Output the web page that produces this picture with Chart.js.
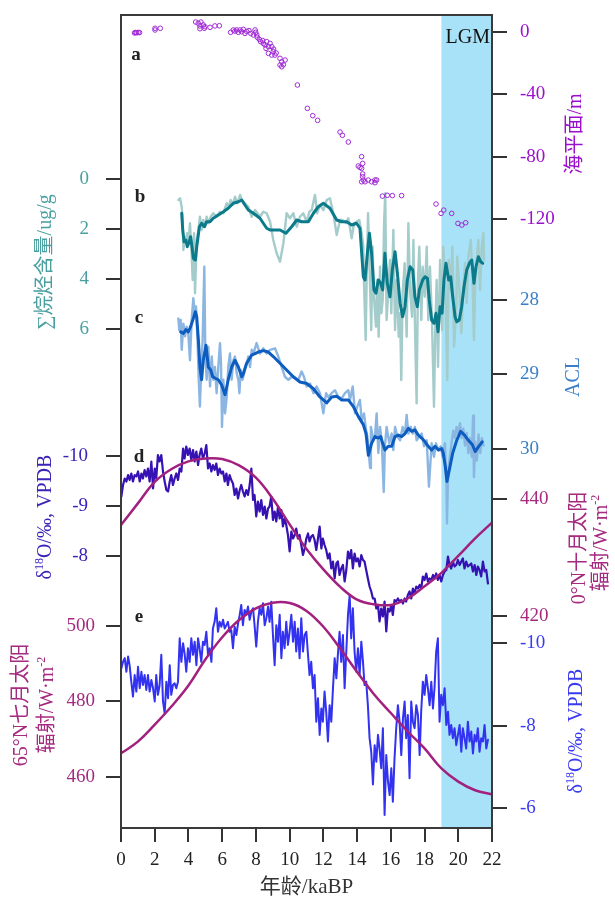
<!DOCTYPE html>
<html><head><meta charset="utf-8">
<script src="https://cdn.jsdelivr.net/npm/chart.js@4.4.0/dist/chart.umd.min.js"></script>
<style>html,body{margin:0;padding:0;background:#fff;}#wrap{width:615px;height:898px;position:relative;}</style>
</head><body><div id="wrap"><canvas id="cv"></canvas></div>
<script>
// ---------------- data ----------------
const xTicks = [0,2,4,6,8,10,12,14,16,18,20,22];
const lgmStart = 19, lgmEnd = 22;

// a: sea level (m)
const seaAge = [0.80,0.86,0.92,1.02,1.10,2.02,2.02,2.33,4.43,4.58,
4.74,4.68,4.68,4.88,4.98,4.94,5.28,5.57,5.83,6.50,
6.66,6.76,6.86,6.96,7.06,7.15,7.25,7.35,7.45,7.59,
7.69,7.95,7.99,7.85,8.05,8.08,8.20,8.28,8.44,8.64,
8.54,8.74,8.84,8.94,9.03,8.74,8.94,9.13,9.43,9.73,
9.53,9.43,9.53,9.63,8.40,8.60,9.05,9.20,10.46,11.05,
11.37,11.66,12.99,13.13,13.48,14.27,14.07,14.17,14.33,14.27,
14.33,14.33,14.37,14.27,14.47,14.66,14.86,15.06,15.16,15.06,
15.50,15.79,16.09,16.64,18.68,18.98,19.14,19.61,19.98,20.21,
20.44];
const seaLevel = [-0.6,-0.3,-0.5,-0.3,-0.4,2.4,1.3,2.4,6.4,5.6,
6.4,3.9,2.1,4.5,3.4,2.4,3.0,3.9,4.0,-0.2,
1.3,0.6,1.3,-0.2,1.3,0.2,1.7,-0.9,0.4,0.9,
-0.9,1.3,-0.2,-1.9,-1.9,-3.4,-4.7,-6.2,-7.3,-6.2,
-8.3,-9.4,-7.3,-9.4,-12.6,-13.7,-14.8,-14.8,-16.9,-18.0,
-19.1,-21.2,-22.3,-21.0,-5.5,-10.5,-11.0,-13.5,-34.0,-49.0,
-53.7,-56.7,-64.2,-66.3,-70.6,-80.0,-86.0,-86.9,-84.3,-87.5,
-91.1,-92.9,-95.0,-96.1,-96.1,-95.0,-96.1,-95.0,-95.0,-96.7,
-105.3,-104.8,-105.0,-105.0,-110.4,-116.4,-114.3,-116.4,-122.8,-123.9,
-122.4];
const seaTicks = [0,-40,-80,-120];

// b: total alkanes (ug/g)
const alkRawAge = [3.40,3.50,3.60,3.66,3.70,3.78,3.85,3.93,4.01,4.09,
4.19,4.25,4.33,4.39,4.49,4.59,4.68,4.78,4.88,4.98,
5.08,5.18,5.32,5.47,5.67,5.87,6.07,6.27,6.40,6.50,
6.62,6.76,6.90,7.06,7.16,7.35,7.55,7.75,7.95,8.24,
8.44,8.64,8.84,9.03,9.23,9.43,9.63,9.82,10.02,10.22,
10.42,10.61,10.81,11.01,11.17,11.31,11.50,11.64,11.80,12.00,
12.20,12.39,12.59,12.79,12.99,13.14,13.34,13.48,13.68,13.82,
13.97,14.13,14.27,14.37,14.41,14.51,14.57,14.65,14.77,14.84,
14.92,15.00,15.12,15.20,15.28,15.36,15.44,15.52,15.60,15.67,
15.75,15.83,15.95,16.03,16.15,16.25,16.35,16.47,16.55,16.62,
16.70,16.82,16.94,17.04,17.14,17.26,17.34,17.45,17.53,17.61,
17.69,17.81,17.89,18.01,18.13,18.22,18.32,18.44,18.56,18.64,
18.72,18.80,18.92,19.04,19.11,19.23,19.35,19.43,19.55,19.65,
19.75,19.87,19.94,20.06,20.18,20.30,20.40,20.50,20.60,20.74,
20.85,20.93,21.01,21.09,21.19,21.29,21.39,21.49,21.53];
const alkRaw = [0.84,0.77,1.11,1.64,2.84,2.31,2.57,2.17,2.44,1.77,
2.97,4.04,2.17,4.57,2.44,2.04,1.51,2.04,1.64,1.91,
1.51,1.77,1.51,1.37,1.51,1.31,1.37,0.97,1.11,0.84,
1.04,0.71,0.97,0.64,0.84,0.97,1.11,1.51,1.24,1.51,
1.31,1.37,1.71,2.44,2.97,3.31,2.57,1.37,1.57,1.37,
1.91,1.51,1.37,1.71,1.31,1.24,0.64,1.37,1.04,1.24,
0.84,0.77,1.37,2.24,1.64,1.64,1.77,1.57,2.37,1.77,
1.71,1.64,2.17,2.71,4.17,6.44,3.91,1.37,4.31,6.04,
2.71,4.71,5.91,4.04,6.31,3.51,5.37,4.84,1.77,0.57,
5.64,4.71,3.24,5.37,2.04,6.04,4.04,6.31,5.37,8.04,
4.57,3.37,6.31,1.77,4.44,5.51,2.44,6.44,8.97,4.04,
2.71,5.64,3.51,4.71,2.71,5.64,3.51,5.64,9.11,5.91,
4.04,7.51,3.24,6.04,2.71,4.17,8.04,3.24,4.44,2.71,
6.71,5.37,3.11,4.31,6.17,4.31,3.37,4.97,3.11,2.44,
4.04,6.44,4.04,3.24,2.44,4.44,2.71,2.17,3.24];
const alkSmAge = [3.60,3.66,3.74,3.85,3.93,4.05,4.13,4.21,4.29,4.41,
4.49,4.65,4.78,4.94,5.08,5.28,5.47,5.77,6.07,6.36,
6.66,6.96,7.16,7.35,7.55,7.85,8.24,8.64,8.84,9.43,
9.78,10.12,10.42,10.71,11.11,11.41,11.70,12.00,12.39,12.79,
13.09,13.38,13.68,13.97,14.17,14.37,14.47,14.61,14.73,14.86,
15.00,15.12,15.26,15.40,15.52,15.65,15.79,15.95,16.09,16.25,
16.39,16.55,16.70,16.84,16.98,17.14,17.30,17.43,17.57,17.69,
17.89,18.03,18.17,18.28,18.42,18.56,18.68,18.80,18.92,19.04,
19.15,19.27,19.43,19.55,19.67,19.81,19.91,20.06,20.20,20.34,
20.50,20.66,20.80,20.93,21.05,21.19,21.33,21.45];
const alkSm = [1.37,2.04,2.51,2.44,2.71,2.51,2.31,2.71,3.17,3.24,
2.71,1.91,1.77,1.91,1.71,1.71,1.57,1.44,1.31,1.17,
0.97,0.91,0.84,1.04,1.24,1.37,1.57,1.97,2.04,2.04,
2.17,1.91,1.64,1.71,1.71,1.37,1.11,0.97,1.17,1.64,
1.71,1.71,1.84,1.77,1.97,3.91,4.04,2.97,2.17,2.97,
4.44,4.57,4.04,4.17,4.44,2.97,4.17,4.71,3.64,2.91,
3.77,4.97,5.51,5.11,4.04,3.51,3.64,4.71,5.11,4.44,
4.04,3.91,3.97,4.84,5.64,5.77,5.37,6.11,5.11,5.37,
4.04,3.37,4.04,3.91,4.71,5.51,5.71,5.64,5.11,4.31,
3.64,3.37,3.24,4.17,3.51,3.11,3.31,3.37];
const alkTicks = [0,2,4,6];

// c: ACL
const aclRawAge = [3.40,3.46,3.54,3.60,3.70,3.80,3.89,3.99,4.09,4.19,
4.29,4.37,4.45,4.53,4.61,4.68,4.76,4.84,4.94,5.00,
5.08,5.18,5.28,5.38,5.47,5.57,5.67,5.77,5.87,5.93,
5.99,6.07,6.17,6.27,6.36,6.46,6.56,6.66,6.76,6.86,
6.96,7.02,7.10,7.21,7.35,7.45,7.55,7.65,7.75,7.85,
8.04,8.24,8.44,8.64,8.84,9.13,9.33,9.53,9.72,9.92,
10.12,10.32,10.52,10.71,10.85,11.01,11.21,11.41,11.60,11.80,
12.00,12.16,12.29,12.49,12.69,12.89,13.09,13.28,13.48,13.58,
13.74,13.88,14.01,14.17,14.27,14.41,14.53,14.61,14.77,14.82,
14.96,15.06,15.16,15.26,15.36,15.46,15.58,15.65,15.75,15.91,
16.05,16.15,16.25,16.39,16.55,16.70,16.84,16.94,17.04,17.18,
17.30,17.43,17.53,17.69,17.83,17.97,18.13,18.26,18.42,18.56,
18.68,18.82,18.96,19.07,19.21,19.30,19.33,19.40,19.50,19.60,
19.70,19.80,19.90,20.00,20.10,20.20,20.30,20.40,20.50,20.60,
20.70,20.80,20.88,20.93,21.00,21.10,21.20,21.30,21.40,21.50];
const aclRaw = [28.25,28.41,28.27,28.67,28.32,28.49,28.36,28.45,28.81,28.27,
27.98,28.18,28.09,28.49,29.07,29.43,28.90,28.54,27.56,28.72,
29.07,28.63,29.16,28.76,29.07,28.90,29.25,28.90,28.58,28.85,
29.70,29.07,29.52,29.30,28.90,28.72,29.07,28.81,28.76,28.98,
29.07,29.25,28.94,29.07,28.94,28.85,28.76,28.90,28.67,28.72,
28.58,28.72,28.65,28.72,28.67,28.65,28.76,28.90,29.03,29.07,
29.03,29.05,29.07,28.96,29.03,29.16,29.12,29.25,29.16,29.25,
29.52,29.25,29.30,29.25,29.21,29.30,29.32,29.25,29.21,29.34,
29.16,29.52,29.43,29.34,29.61,29.52,29.74,29.83,30.25,29.70,
29.88,29.83,29.52,30.05,29.70,29.88,30.57,29.96,29.70,29.92,
29.79,30.01,29.70,29.83,29.88,29.70,29.79,29.54,29.79,29.70,
29.79,29.70,29.88,29.83,29.79,29.96,29.88,30.50,29.92,30.10,
29.92,30.01,29.96,30.10,29.92,30.45,30.99,30.30,30.10,29.92,
29.75,29.85,29.70,29.80,29.65,29.85,29.72,29.95,29.78,30.05,
29.85,30.10,29.55,30.37,29.90,30.15,29.80,30.05,29.85,29.95];
const aclSmAge = [3.54,3.70,3.85,3.99,4.13,4.29,4.41,4.49,4.59,4.68,
4.78,4.88,5.04,5.18,5.32,5.44,5.59,5.77,5.97,6.17,
6.36,6.56,6.76,6.96,7.16,7.25,7.45,7.75,8.14,8.44,
8.74,9.03,9.43,9.82,10.22,10.61,11.01,11.41,11.80,12.20,
12.49,12.79,13.09,13.48,13.78,14.07,14.37,14.53,14.67,14.86,
15.06,15.26,15.40,15.52,15.65,15.85,16.05,16.25,16.45,16.64,
16.84,17.04,17.24,17.43,17.63,17.83,18.03,18.22,18.42,18.62,
18.82,19.02,19.11,19.23,19.33,19.51,19.67,19.91,20.14,20.37,
20.60,20.84,21.00,21.18,21.42];
const aclSm = [28.43,28.45,28.40,28.43,28.36,28.25,28.16,28.23,28.54,28.90,
29.07,28.81,28.61,28.90,28.94,29.03,29.05,29.07,29.14,29.27,
29.07,28.90,28.81,28.90,29.03,28.99,28.85,28.74,28.70,28.68,
28.70,28.76,28.85,28.94,29.03,29.10,29.12,29.19,29.30,29.38,
29.30,29.29,29.34,29.34,29.43,29.56,29.67,29.79,30.08,29.92,
29.83,29.85,29.83,29.92,30.01,29.96,29.96,29.83,29.81,29.83,
29.79,29.72,29.76,29.74,29.81,29.85,29.90,29.96,30.01,29.96,
30.01,29.99,30.05,30.23,30.43,30.23,30.05,29.88,29.76,29.81,
29.88,29.94,30.03,29.97,29.90];
const aclTicks = [28,29,30];

// d & e: speleothem d18O records (shared age readings)
const caveAge = [0.02,0.12,0.22,0.32,0.42,0.51,0.61,0.71,0.81,0.91,
1.01,1.11,1.21,1.30,1.40,1.50,1.60,1.70,1.80,1.90,
2.00,2.09,2.19,2.29,2.39,2.49,2.59,2.69,2.79,2.89,
2.98,3.08,3.18,3.28,3.38,3.48,3.58,3.68,3.77,3.87,
3.97,4.07,4.17,4.27,4.37,4.47,4.57,4.66,4.76,4.86,
4.96,5.06,5.16,5.26,5.36,5.45,5.55,5.65,5.75,5.85,
5.95,6.05,6.15,6.25,6.34,6.44,6.54,6.64,6.74,6.84,
6.94,7.04,7.13,7.23,7.33,7.43,7.53,7.63,7.73,7.83,
7.92,8.02,8.12,8.22,8.32,8.42,8.52,8.62,8.72,8.81,
8.91,9.01,9.11,9.21,9.31,9.41,9.51,9.60,9.70,9.80,
9.90,10.00,10.10,10.20,10.30,10.39,10.49,10.59,10.69,10.79,
10.89,10.99,11.09,11.18,11.28,11.38,11.48,11.58,11.68,11.78,
11.88,11.97,12.07,12.17,12.27,12.37,12.47,12.57,12.67,12.77,
12.86,12.96,13.06,13.16,13.26,13.36,13.46,13.56,13.65,13.75,
13.85,13.95,14.05,14.15,14.25,14.35,14.44,14.54,14.64,14.74,
14.84,14.94,15.04,15.14,15.24,15.33,15.43,15.53,15.63,15.73,
15.83,15.93,16.03,16.12,16.22,16.32,16.42,16.52,16.62,16.72,
16.82,16.91,17.01,17.11,17.21,17.31,17.41,17.51,17.61,17.71,
17.80,17.90,18.00,18.10,18.20,18.30,18.40,18.50,18.59,18.69,
18.79,18.89,18.99,19.09,19.19,19.29,19.39,19.48,19.58,19.68,
19.78,19.88,19.98,20.08,20.18,20.27,20.37,20.47,20.57,20.67,
20.77,20.87,20.97,21.07,21.16,21.26,21.36,21.46,21.56,21.66,
21.76];
const dO18d = [-9.19,-9.42,-9.55,-9.49,-9.62,-9.52,-9.65,-9.49,-9.62,-9.59,
-9.69,-9.49,-9.65,-9.55,-9.72,-9.59,-9.75,-9.49,-9.89,-9.35,
-9.75,-9.55,-10.02,-9.89,-10.02,-9.69,-9.49,-9.32,-9.29,-9.49,
-9.62,-9.42,-9.55,-9.65,-9.52,-9.75,-9.69,-10.15,-9.95,-10.19,
-10.02,-10.15,-9.92,-10.12,-9.89,-10.09,-9.82,-10.02,-10.15,-9.95,
-10.05,-10.22,-9.75,-9.85,-9.69,-9.82,-9.72,-9.85,-9.62,-9.75,
-9.65,-9.69,-9.49,-9.65,-9.42,-9.62,-9.52,-9.45,-9.22,-9.35,
-9.15,-9.32,-9.42,-9.29,-9.19,-9.32,-9.22,-9.42,-9.75,-9.12,
-9.22,-8.79,-9.09,-8.89,-9.12,-8.82,-8.99,-8.75,-8.95,-8.99,
-9.19,-8.72,-8.89,-8.69,-8.99,-8.75,-8.92,-8.59,-8.75,-8.62,
-8.42,-8.09,-8.49,-8.35,-8.42,-8.55,-8.35,-8.42,-8.22,-8.02,
-8.15,-8.35,-8.45,-8.29,-8.39,-8.42,-8.32,-8.12,-8.35,-8.59,
-8.15,-8.35,-8.22,-8.12,-7.95,-8.05,-7.75,-7.89,-7.55,-7.85,
-7.89,-7.62,-7.75,-7.82,-7.49,-7.72,-8.09,-7.95,-8.12,-7.75,
-8.05,-7.89,-7.95,-7.79,-8.02,-7.92,-7.89,-7.72,-7.55,-7.39,
-7.29,-7.15,-7.15,-6.95,-7.02,-6.69,-6.95,-6.79,-7.09,-6.49,
-6.95,-6.89,-7.02,-6.82,-7.12,-7.09,-7.15,-7.09,-7.12,-7.05,
-7.15,-7.09,-7.22,-7.29,-7.15,-7.35,-7.25,-7.39,-7.35,-7.42,
-7.35,-7.59,-7.52,-7.65,-7.49,-7.55,-7.52,-7.62,-7.55,-7.65,
-7.52,-7.62,-7.49,-7.62,-7.69,-7.72,-7.99,-7.82,-7.75,-7.89,
-7.79,-7.82,-7.92,-7.82,-7.89,-7.95,-7.75,-7.89,-7.79,-7.82,
-7.85,-7.69,-7.82,-7.62,-7.79,-7.72,-7.59,-7.89,-7.69,-7.72,
-7.45];
const dO18e = [-9.39,-9.55,-9.64,-9.31,-9.68,-9.47,-9.07,-8.71,-9.23,-8.83,
-9.43,-8.91,-9.31,-8.99,-9.23,-8.87,-9.23,-8.83,-9.11,-8.91,
-8.59,-9.23,-8.75,-8.99,-9.72,-8.59,-8.30,-9.07,-8.67,-9.47,
-8.75,-8.99,-9.03,-8.91,-9.07,-10.12,-9.55,-10.00,-9.76,-9.31,
-9.88,-9.55,-10.12,-9.72,-10.04,-9.47,-10.12,-9.88,-9.55,-10.04,
-9.96,-10.28,-9.72,-9.88,-9.55,-10.36,-10.52,-10.85,-10.28,-10.52,
-10.40,-10.57,-10.36,-10.44,-10.52,-10.28,-10.32,-9.88,-10.40,-10.20,
-10.48,-10.69,-10.93,-10.44,-10.81,-10.69,-10.89,-10.57,-10.77,-10.85,
-10.44,-9.92,-10.52,-10.85,-10.69,-10.97,-10.44,-10.61,-10.89,-10.52,
-11.01,-10.20,-9.47,-10.44,-10.04,-10.69,-9.64,-10.28,-9.88,-10.52,
-9.96,-10.28,-10.69,-10.04,-10.52,-9.80,-10.36,-9.64,-10.61,-9.80,
-10.20,-10.28,-9.72,-9.23,-9.55,-8.91,-9.23,-8.10,-8.67,-7.78,
-8.42,-8.10,-8.83,-8.34,-7.62,-8.50,-8.10,-8.91,-9.64,-9.15,
-9.72,-10.28,-9.55,-10.20,-8.91,-9.80,-10.69,-11.17,-10.12,-10.85,
-9.80,-9.31,-9.88,-9.23,-10.04,-9.55,-8.99,-9.07,-8.50,-7.70,
-7.37,-6.58,-7.53,-7.13,-7.78,-7.45,-6.97,-7.94,-5.84,-7.29,
-6.65,-6.32,-6.97,-6.16,-7.21,-7.94,-8.50,-8.10,-7.29,-8.18,
-8.59,-7.70,-8.26,-6.73,-8.59,-8.10,-7.94,-8.50,-8.26,-7.29,
-8.34,-9.07,-8.75,-9.23,-8.91,-8.50,-9.07,-8.42,-8.91,-9.80,
-10.12,-8.10,-8.75,-8.50,-8.91,-8.02,-8.34,-7.78,-8.02,-7.70,
-7.94,-7.53,-7.78,-8.02,-7.37,-7.94,-7.70,-7.45,-8.10,-7.62,
-7.86,-7.33,-7.78,-7.62,-7.94,-7.37,-7.70,-7.62,-8.02,-7.45,
-7.66];
const dTicks = [-10,-9,-8];
const eTicks = [-10,-8,-6];

// insolation curves (W/m2)
const insolAge = [0,1,2,3,4,5,6,7,8,9,10,11,12,13,14,15,16,17,18,19,20,21,22];
const insol0NOct = [435.6,439.3,443.0,445.2,446.5,447.0,446.9,445.8,443.7,440.1,435.7,431.5,428.0,425.0,422.8,422.0,421.9,423.0,425.1,427.4,430.3,433.3,436.0];
const insol65NJul = [466.2,469.3,473.8,478.7,484.2,491.1,497.0,501.6,504.7,506.2,506.1,504.0,499.8,494.0,487.8,481.9,476.9,472.0,467.5,462.2,458.7,456.4,455.3];
const in0Ticks = [440,420];
const in65Ticks = [500,480,460];

// ---------------- styling / build ----------------
const SERIF = '"Liberation Serif","Times New Roman","Noto Sans CJK SC",serif';
const C = {
  sea:'#a02ad6', seaTxt:'#9a10cc',
  alkRaw:'#a3cccb', alkSm:'#0b7a8b', alkTxt:'#4aa0a0',
  aclRaw:'#8cb6e2', aclSm:'#0d5cc0', aclTxt:'#3a80c8',
  d:'#3612b2', dTxt:'#3d22b8',
  e:'#3232f0', eTxt:'#3a3af0',
  ins:'#a2207e', insTxt:'#a52a80',
  band:'#a8e2f8', frame:'#3a3a3a'
};
const pts = (xs, ys) => xs.map((x, i) => ({x, y: ys[i]}));
const TOP = 15, BOTTOM = 828;
function yAxis(position, v1, p1, v2, p2, tickVals, color, pad) {
  const k = (v2 - v1) / (p2 - p1);
  const vTop = v1 + (TOP - p1) * k, vBot = v1 + (BOTTOM - p1) * k;
  return {
    type: 'linear', position, reverse: vTop < vBot,
    min: Math.min(vTop, vBot), max: Math.max(vTop, vBot),
    afterBuildTicks: s => { s.ticks = tickVals.map(v => ({value: v})); },
    afterFit: s => { s.width = 0; s.paddingTop = 0; s.paddingBottom = 0; },
    grid: {display: true, drawOnChartArea: false, drawTicks: true, tickLength: 15, color: '#333', lineWidth: 2},
    border: {display: false},
    ticks: {color, padding: pad, autoSkip: false, font: {family: SERIF, size: 19}, callback: v => String(v)}
  };
}
const lineDs = (data, yAxisID, color, width, order, extra) => Object.assign({
  data, yAxisID, xAxisID: 'x', borderColor: color, borderWidth: width, pointRadius: 0,
  fill: false, tension: 0, order, borderJoinStyle: 'round', borderCapStyle: 'round'
}, extra || {});

function drawVText(ctx, parts, cx, cy, size, color) {
  ctx.save(); ctx.translate(cx, cy); ctx.rotate(-Math.PI / 2);
  ctx.fillStyle = color; ctx.textBaseline = 'middle'; ctx.textAlign = 'left';
  let w = 0;
  for (const [t, sup] of parts) { ctx.font = (sup ? size * 0.6 : size) + 'px ' + SERIF; w += ctx.measureText(t).width; }
  let x = -w / 2;
  for (const [t, sup] of parts) {
    ctx.font = (sup ? size * 0.6 : size) + 'px ' + SERIF;
    ctx.fillText(t, x, sup ? -size * 0.3 : 0);
    x += ctx.measureText(t).width;
  }
  ctx.restore();
}

const deco = {
  id: 'deco',
  afterLayout(chart) {
    // widen the zero-width side axes so their tick labels are not clipped
    Object.values(chart.scales).forEach(s => {
      if (s.axis !== 'y') return;
      if (s.position === 'left') { s.left = 0; s.width = s.right; }
      else { s.right = chart.width; s.width = s.right - s.left; }
    });
  },
  beforeDatasetsDraw(chart) {
    const {ctx, chartArea: a, scales: {x}} = chart;
    const x1 = x.getPixelForValue(lgmStart), x2 = x.getPixelForValue(lgmEnd);
    ctx.save(); ctx.fillStyle = C.band; ctx.fillRect(x1, a.top, x2 - x1, a.bottom - a.top); ctx.restore();
  },
  afterDatasetsDraw(chart) {
    const {ctx, chartArea: a, scales: {x}} = chart;
    ctx.save();
    ctx.strokeStyle = C.frame; ctx.lineWidth = 2;
    ctx.strokeRect(a.left, a.top, a.right - a.left, a.bottom - a.top);
    ctx.fillStyle = '#111'; ctx.textAlign = 'center'; ctx.textBaseline = 'middle';
    ctx.font = '20px ' + SERIF;
    ctx.fillText('LGM', (x.getPixelForValue(lgmStart) + x.getPixelForValue(lgmEnd)) / 2 + 1, 38);
    ctx.font = 'bold 19px ' + SERIF; ctx.fillStyle = '#222';
    [['a',136,55],['b',140,197],['c',139,318],['d',139,457],['e',139,617]].forEach(([t,px,py]) => ctx.fillText(t, px, py));
    ctx.restore();
    const sup18 = [['δ',0],['18',1],['O/‰, VPDB',0]];
    drawVText(ctx, [['海平面/m',0]], 576, 134, 20, C.seaTxt);
    drawVText(ctx, [['∑烷烃含量/ug/g',0]], 46, 262, 20, C.alkTxt);
    drawVText(ctx, [['ACL',0]], 574, 377, 20, C.aclTxt);
    drawVText(ctx, sup18, 46, 517, 20, C.dTxt);
    drawVText(ctx, [['0°N十月太阳',0]], 580, 548, 20, C.insTxt);
    drawVText(ctx, [['辐射/W·m',0],['-2',1]], 602, 543, 20, C.insTxt);
    drawVText(ctx, [['65°N七月太阳',0]], 22, 705, 20, C.insTxt);
    drawVText(ctx, [['辐射/W·m',0],['-2',1]], 48, 705, 20, C.insTxt);
    drawVText(ctx, sup18, 577, 731, 20, C.eTxt);
  }
};

new Chart(document.getElementById('cv'), {
  type: 'line',
  data: {datasets: [
    lineDs(pts(seaAge, seaLevel), 'ySea', C.sea, 1, 1, {showLine: false, pointRadius: 2.3, pointBorderWidth: 1, pointBorderColor: C.sea, pointBackgroundColor: 'rgba(255,255,255,0)'}),
    lineDs(pts(alkRawAge, alkRaw), 'yAlk', C.alkRaw, 2.4, 8),
    lineDs(pts(alkSmAge, alkSm), 'yAlk', C.alkSm, 3, 7),
    lineDs(pts(aclRawAge, aclRaw), 'yAcl', C.aclRaw, 2.4, 8),
    lineDs(pts(aclSmAge, aclSm), 'yAcl', C.aclSm, 3, 7),
    lineDs(pts(caveAge, dO18e), 'yE', C.e, 2, 6),
    lineDs(pts(caveAge, dO18d), 'yD', C.d, 2.2, 5),
    lineDs(pts(insolAge, insol0NOct), 'yIn0', C.ins, 2.5, 2, {tension: 0.4}),
    lineDs(pts(insolAge, insol65NJul), 'yIn65', C.ins, 2.5, 2, {tension: 0.4})
  ]},
  options: {
    responsive: true, maintainAspectRatio: false, animation: false,
    layout: {padding: {left: 121, right: 123, top: TOP, bottom: 0}},
    plugins: {legend: {display: false}, tooltip: {enabled: false}},
    scales: {
      x: {
        type: 'linear', position: 'bottom', min: 0, max: 22,
        afterBuildTicks: s => { s.ticks = xTicks.map(v => ({value: v})); },
        afterFit: s => { s.height = 898 - BOTTOM; },
        ticks: {color: '#222', padding: 7, autoSkip: false, maxRotation: 0, font: {family: SERIF, size: 19}, callback: v => String(v)},
        grid: {display: true, drawOnChartArea: false, tickLength: 14, color: '#333', lineWidth: 2},
        border: {display: true, color: '#333', width: 2},
        title: {display: true, text: '年龄/kaBP', color: '#333', font: {family: SERIF, size: 21, lineHeight: 1.0}, padding: {top: 0, bottom: 0}}
      },
      ySea: yAxis('right', 0, 32, -120, 219, seaTicks, C.seaTxt, 13),
      yAlk: yAxis('left', 0, 179, 6, 329, alkTicks, C.alkTxt, 17),
      yAcl: yAxis('right', 28, 299.7, 30, 449.3, aclTicks, C.aclTxt, 13),
      yD: yAxis('left', -10, 456, -8, 556, dTicks, C.dTxt, 18),
      yIn0: yAxis('right', 440, 499.3, 420, 616, in0Ticks, C.insTxt, 13),
      yIn65: yAxis('left', 500, 626, 460, 776.7, in65Ticks, C.insTxt, 11),
      yE: yAxis('right', -10, 643.3, -6, 808.3, eTicks, C.eTxt, 13)
    }
  },
  plugins: [deco]
});
</script></body></html>
